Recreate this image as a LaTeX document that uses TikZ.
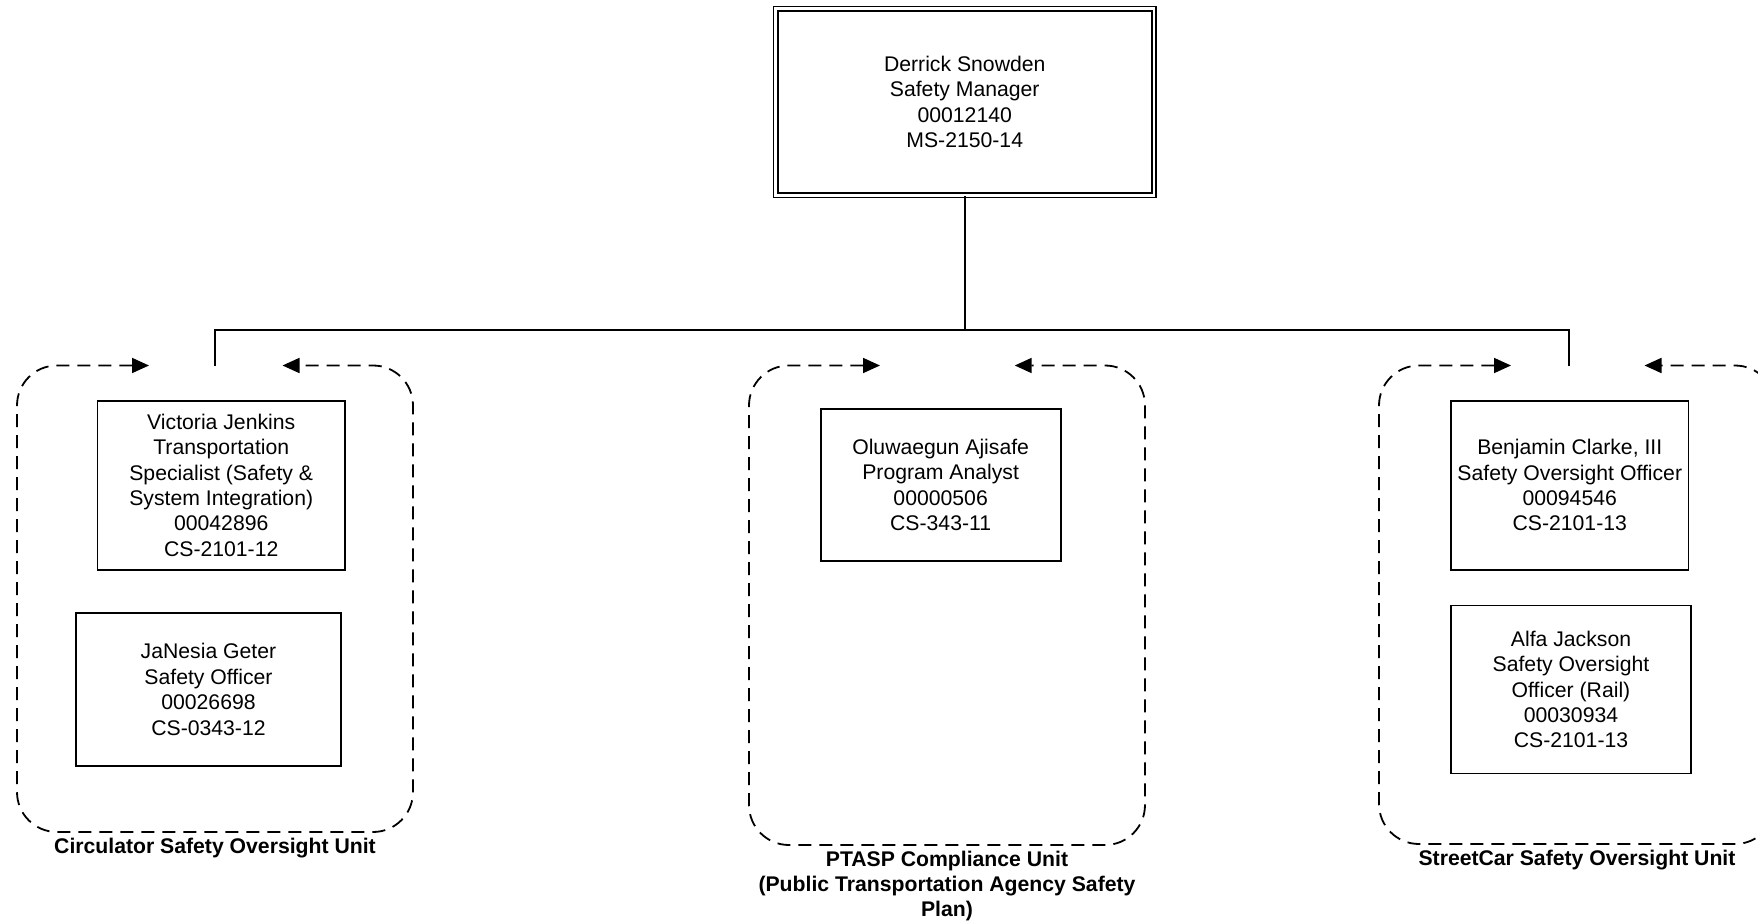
\documentclass[tikz,border=0pt]{standalone}
\usepackage{fontspec}
\setmainfont{Liberation Sans}
\usetikzlibrary{arrows.meta}
\begin{document}
\begin{tikzpicture}[x=0.5pt,y=-0.5pt,
  font=\fontsize{10.6}{12.7}\selectfont,
  person/.style={draw, line width=0.9pt, align=center, inner sep=0pt},
  headbox/.style={draw, double, double distance=1.35pt, line width=0.85pt, align=center, inner sep=0pt},
  unit/.style={line width=0.9pt, dash pattern=on 6.5pt off 4pt, rounded corners=20pt,
    {Triangle[length=8.5pt,width=7.5pt]}-{Triangle[length=8.5pt,width=7.5pt]}},
  unitlabel/.style={font=\fontsize{10.6}{12.7}\selectfont\bfseries, align=center},
  link/.style={line width=0.9pt}]
\clip (0,0) rectangle (1758,921);
\fill[white] (0,0) rectangle (1758,921);

% head
\node[headbox, minimum width=189.2pt, minimum height=93.4pt] (top) at (964.75,102)
  {Derrick Snowden\\Safety Manager\\00012140\\MS-2150-14};

% bus
\coordinate (busL) at (215,329.6);
\coordinate (busR) at (1569,329.6);
\coordinate (dropL) at (215,365.5);
\coordinate (dropR) at (1569,365.5);
\draw[link] (top.south) -- (top.south |- busL);
\draw[link] (dropL) -- (busL) -- (busR) -- (dropR);

% unit outlines
\coordinate (lA) at (149,365.5);   \coordinate (lB) at (282.5,365.5);
\coordinate (mA) at (880,365.5);   \coordinate (mB) at (1014.7,365.5);
\coordinate (rA) at (1511,365.5);  \coordinate (rB) at (1644.5,365.5);
\draw[unit] (lA) -- (17,365.5) -- (17,832) -- (413,832) -- (413,365.5) -- (lB);
\draw[unit] (mA) -- (749,365.5) -- (749,845) -- (1145,845) -- (1145,365.5) -- (mB);
\draw[unit] (rA) -- (1379,365.5) -- (1379,844) -- (1775,844) -- (1775,365.5) -- (rB);

% persons
\node[person, minimum width=123.75pt, minimum height=84.3pt] (vj) at (221.25,485.3)
  {Victoria Jenkins\\Transportation\\Specialist (Safety \&\\System Integration)\\00042896\\CS-2101-12};
\node[person, minimum width=132.5pt, minimum height=76.5pt] (jg) at (208.5,689.5)
  {JaNesia Geter\\Safety Officer\\00026698\\CS-0343-12};
\node[person, minimum width=120pt, minimum height=75.8pt] (oa) at (940.65,484.8)
  {Oluwaegun Ajisafe\\Program Analyst\\00000506\\CS-343-11};
\node[person, minimum width=118.75pt, minimum height=84.3pt] (bc) at (1569.75,485.3)
  {Benjamin Clarke, III\\Safety Oversight Officer\\00094546\\CS-2101-13};
\node[person, minimum width=120pt, minimum height=84pt] (aj) at (1571,689.5)
  {Alfa Jackson\\Safety Oversight\\Officer (Rail)\\00030934\\CS-2101-13};

% unit labels
\node[unitlabel] (lblL) at (215,848.5) {Circulator Safety Oversight Unit};
\node[unitlabel] (lblM) at (947,886) {PTASP Compliance Unit\\(Public Transportation Agency Safety\\Plan)};
\node[unitlabel] (lblR) at (1577,860) {StreetCar Safety Oversight Unit};
\end{tikzpicture}
\end{document}
